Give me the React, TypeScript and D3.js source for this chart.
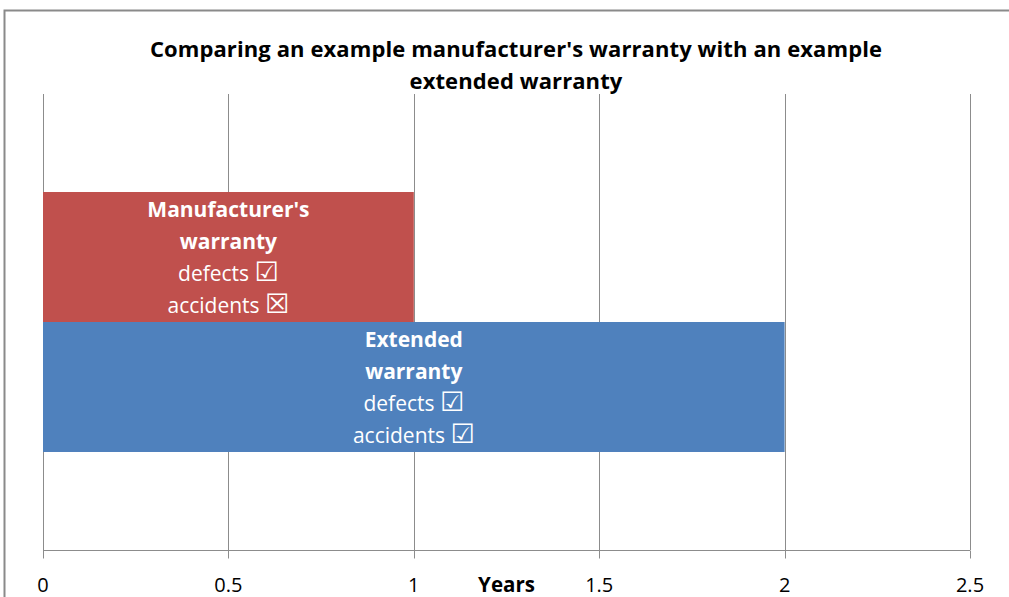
import React, { useEffect, useRef } from 'react';
import * as d3 from 'd3';

const categories = ["Manufacturer's warranty", 'Extended warranty'];
const years = [1, 2];
const nameLines = [["Manufacturer's", 'warranty'], ['Extended', 'warranty']];
const defectMarks = ['\u2611', '\u2611'];
const accidentMarks = ['\u2612', '\u2611'];
const colours = ['#C0504D', '#4F81BD'];
const tickValues = [0, 0.5, 1, 1.5, 2, 2.5];
const titleLines = ["Comparing an example manufacturer's warranty with an example", 'extended warranty'];
const axisTitle = 'Years';

const W = 1009;
const H = 597;
const FONT = '"Open Sans", Lato, sans-serif';

export default function App() {
    const ref = useRef<SVGSVGElement>(null);

    useEffect(() => {
        const svg = d3.select(ref.current);
        svg.selectAll('*').remove();

        const plot = { left: 43, right: 970, top: 94, bottom: 550 };

        const x = d3.scaleLinear().domain([0, 2.5]).range([plot.left, plot.right]);
        const y = d3.scaleBand<string>()
            .domain(categories)
            .range([plot.top, plot.bottom])
            .paddingInner(0)
            .paddingOuter(0.754);

        // chart area + border
        svg.append('rect')
            .attr('width', W).attr('height', H).attr('fill', '#fff');
        svg.append('rect')
            .attr('x', 4.5).attr('y', 10.5)
            .attr('width', W + 20).attr('height', H + 20)
            .attr('fill', 'none')
            .attr('stroke', '#8a8a8a')
            .attr('stroke-width', 2);

        // title
        svg.append('g')
            .selectAll('text')
            .data(titleLines)
            .enter().append('text')
            .attr('x', 516)
            .attr('y', (d, i) => 57 + i * 32)
            .attr('text-anchor', 'middle')
            .attr('font-family', FONT)
            .attr('font-weight', 'bold')
            .attr('font-size', 22)
            .attr('letter-spacing', 0.1)
            .attr('fill', '#000')
            .text(d => d);

        // vertical gridlines
        svg.append('g')
            .selectAll('line')
            .data(tickValues)
            .enter().append('line')
            .attr('x1', d => Math.round(x(d)) + 0.5)
            .attr('x2', d => Math.round(x(d)) + 0.5)
            .attr('y1', plot.top)
            .attr('y2', plot.bottom)
            .attr('stroke', '#8c8c8c')
            .attr('stroke-width', 1);

        // bars
        const bars = svg.append('g')
            .selectAll('g')
            .data(categories)
            .enter().append('g');

        bars.append('rect')
            .attr('x', x(0))
            .attr('y', d => y(d) as number)
            .attr('width', (d, i) => x(years[i]) - x(0))
            .attr('height', y.bandwidth())
            .attr('fill', (d, i) => colours[i]);

        bars.each(function (d, i) {
            const cx = (x(0) + x(years[i])) / 2;
            const mid = (y(d) as number) + y.bandwidth() / 2;
            const lines = [
                { t: nameLines[i][0], bold: true, mark: '' },
                { t: nameLines[i][1], bold: true, mark: '' },
                { t: 'defects ', bold: false, mark: defectMarks[i] },
                { t: 'accidents ', bold: false, mark: accidentMarks[i] },
            ];
            const txt = d3.select(this).selectAll('text')
                .data(lines)
                .enter().append('text')
                .attr('x', cx)
                .attr('y', (l, j) => mid + (j - 1.5) * 32 + 8)
                .attr('text-anchor', 'middle')
                .attr('font-family', FONT)
                .attr('font-weight', l => (l.bold ? 'bold' : 'normal'))
                .attr('font-size', 21)
                .attr('fill', '#fff');
            txt.append('tspan').text(l => l.t);
            txt.append('tspan')
                .attr('font-family', '"DejaVu Sans", sans-serif')
                .attr('font-size', 27)
                .text(l => l.mark);
        });

        // x axis
        const axis = svg.append('g').attr('transform', `translate(0, ${plot.bottom + 0.5})`);
        axis.append('line')
            .attr('x1', x(0)).attr('x2', x(2.5))
            .attr('stroke', '#8c8c8c');
        axis.selectAll('.tick')
            .data(tickValues)
            .enter().append('line')
            .attr('class', 'tick')
            .attr('x1', d => Math.round(x(d)) + 0.5)
            .attr('x2', d => Math.round(x(d)) + 0.5)
            .attr('y1', 0).attr('y2', 8)
            .attr('stroke', '#8c8c8c');
        axis.selectAll('.tickLabel')
            .data(tickValues)
            .enter().append('text')
            .attr('class', 'tickLabel')
            .attr('x', d => x(d))
            .attr('y', 41.5)
            .attr('text-anchor', 'middle')
            .attr('font-family', FONT)
            .attr('font-size', 20)
            .attr('fill', '#000')
            .text(d => String(d));

        svg.append('text')
            .attr('x', (plot.left + plot.right) / 2)
            .attr('y', 592)
            .attr('text-anchor', 'middle')
            .attr('font-family', FONT)
            .attr('font-weight', 'bold')
            .attr('font-size', 20.5)
            .attr('fill', '#000')
            .text(axisTitle);
    }, []);

    return (
        <svg ref={ref} width={W} height={H}
            style={{ position: 'absolute', left: 0, top: 0, display: 'block' }} />
    );
}
